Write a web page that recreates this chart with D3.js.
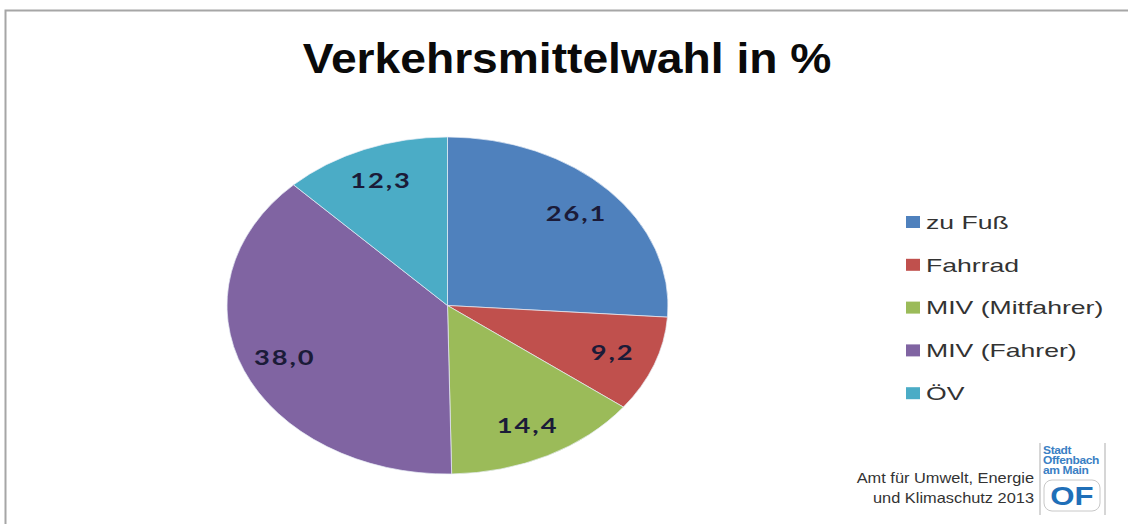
<!DOCTYPE html>
<html>
<head>
<meta charset="utf-8">
<script src="https://cdn.jsdelivr.net/npm/d3@7"></script>
<style>
  body { margin: 0; background: #fff; }
  text { font-family: "Liberation Sans", Arial, sans-serif; }
</style>
</head>
<body>
<svg id="chart" width="1128" height="524"></svg>
<script>
// Data
const categories = ["zu Fuß", "Fahrrad", "MIV (Mitfahrer)", "MIV (Fahrer)", "ÖV"];
const values = [26.1, 9.2, 14.4, 38.0, 12.3];
const colors = ["#4F81BD", "#C0504D", "#9BBB59", "#8064A2", "#4BACC6"];
const titleText = "Verkehrsmittelwahl in %";
const footerLines = ["Amt für Umwelt, Energie", "und Klimaschutz 2013"];
const logoLines = ["Stadt", "Offenbach", "am Main"];

const svg = d3.select("#chart");

// the original slide is stretched sideways, text too
const stretch = (x, y, sx) => "translate(" + x + "," + y + ") scale(" + sx + ",1)";

// Frame (top and left edges visible)
svg.append("path")
    .attr("d", "M5.5,524 V10.5 H1128")
    .attr("fill", "none")
    .attr("stroke", "#a6a6a6")
    .attr("stroke-width", 2);

// Title
svg.append("text")
    .attr("transform", stretch(567, 73, 1.1))
    .attr("text-anchor", "middle")
    .attr("font-size", 42)
    .attr("font-weight", "bold")
    .attr("fill", "#0a0a0a")
    .text(titleText);

// Pie (elliptical)
const cx = 447.5, cy = 305.5, rx = 220.5, ry = 168.5;
const pie = d3.pie().sort(null).value(d => d);
const arcs = pie(values);
const arc = d3.arc().innerRadius(0).outerRadius(rx);
const labelArc = d3.arc().innerRadius(rx * 0.8).outerRadius(rx * 0.8);

const g = svg.append("g")
    .attr("transform", "translate(" + cx + "," + cy + ") scale(1," + (ry / rx) + ")");

g.selectAll(".slice")
    .data(arcs)
    .enter()
    .append("path")
    .attr("class", "slice")
    .attr("d", arc)
    .attr("fill", (d, i) => colors[i])
    .attr("stroke", "#e8eef6")
    .attr("stroke-width", 0.8);

// Labels (outside the scaled group so text is not squashed)
svg.selectAll(".lbl")
    .data(arcs)
    .enter()
    .append("text")
    .attr("class", "lbl")
    .attr("transform", d => stretch(cx + labelArc.centroid(d)[0], cy + labelArc.centroid(d)[1] * ry / rx, 1.3))
    .attr("dy", "0.35em")
    .attr("text-anchor", "middle")
    .style("font-family", "Lato, 'Open Sans', sans-serif")
    .attr("font-size", 21)
    .attr("font-weight", "bold")
    .attr("letter-spacing", 1.5)
    .attr("fill", "#1b1b38")
    .text(d => d3.format(".1f")(d.data).replace(".", ","));

// Legend
const legend = svg.selectAll(".leg")
    .data(categories)
    .enter()
    .append("g")
    .attr("class", "leg")
    .attr("transform", (d, i) => "translate(906," + (222 + i * 42.8) + ")");

legend.append("rect")
    .attr("x", 0)
    .attr("y", -6)
    .attr("width", 14)
    .attr("height", 12)
    .attr("fill", (d, i) => colors[i]);

legend.append("text")
    .attr("transform", stretch(20, 0, 1.4))
    .attr("dy", "0.36em")
    .attr("font-size", 19)
    .attr("fill", "#333")
    .text(d => d);

// Footer
svg.selectAll(".foot")
    .data(footerLines)
    .enter()
    .append("text")
    .attr("class", "foot")
    .attr("transform", (d, i) => stretch(1034, 483 + i * 20, 1.17))
    .attr("text-anchor", "end")
    .attr("font-size", 14)
    .attr("fill", "#333")
    .text(d => d);

// Logo
const logo = svg.append("g").attr("transform", "translate(1038,443)");
logo.append("line").attr("x1", 2).attr("x2", 2).attr("y1", 0).attr("y2", 72)
    .attr("stroke", "#c8c8c8").attr("stroke-width", 1.5);
logo.append("line").attr("x1", 67).attr("x2", 67).attr("y1", 0).attr("y2", 72)
    .attr("stroke", "#c8c8c8").attr("stroke-width", 1.5);
logo.selectAll(".lt")
    .data(logoLines)
    .enter()
    .append("text")
    .attr("transform", (d, i) => stretch(5, 11 + i * 10, 1.2))
    .attr("font-size", 10)
    .attr("font-weight", "bold")
    .attr("letter-spacing", -0.3)
    .attr("fill", "#3a80c4")
    .text(d => d);
logo.append("rect")
    .attr("x", 6).attr("y", 37).attr("width", 56).attr("height", 31)
    .attr("rx", 8)
    .attr("fill", "#fff")
    .attr("stroke", "#c8c8c8");
logo.append("text")
    .attr("transform", stretch(34, 62, 1.2))
    .attr("text-anchor", "middle")
    .attr("font-size", 26)
    .attr("font-weight", "900")
    .attr("fill", "#1f6fb8")
    .text("OF");
</script>
</body>
</html>
